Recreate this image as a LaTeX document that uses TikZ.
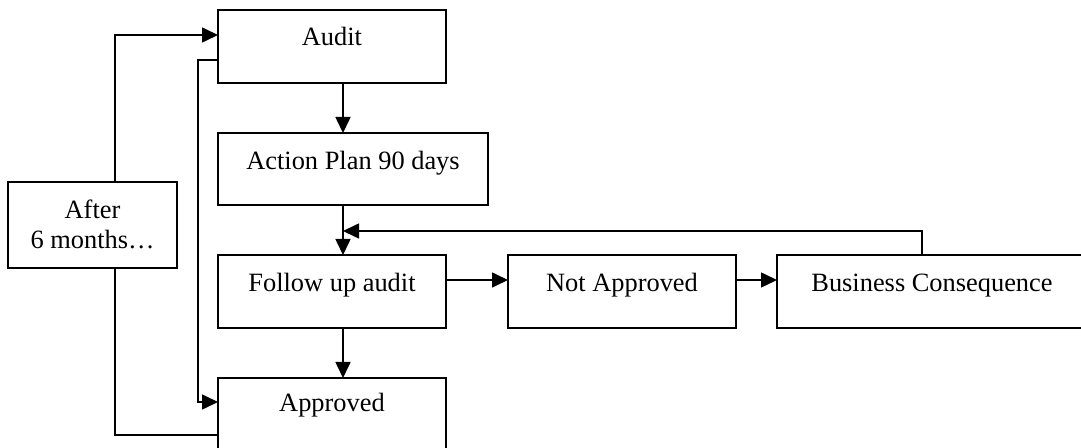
\documentclass[tikz,border=0pt]{standalone}
\usepackage{fontspec}
\setmainfont{Liberation Serif}
\usetikzlibrary{arrows.meta}
\begin{document}
\begin{tikzpicture}[x=0.5pt,y=-0.5pt,
  box/.style={draw, line width=0.8pt, anchor=north west, inner sep=0pt, outer sep=0pt, minimum width=114pt, minimum height=36.5pt},
  lbl/.style={anchor=base, font=\fontsize{13.2}{15}\selectfont, inner sep=0pt},
  conn/.style={line width=0.8pt},
  arr/.style={conn, -{Triangle[length=8pt,width=7.5pt]}}]
\useasboundingbox (0,0) rectangle (1081,448);
\clip (0,0) rectangle (1081,448);
% boxes
\node[box] (audit) at (218,10) {};
\node[box, minimum width=135pt, minimum height=36pt] (plan) at (218,133) {};
\node[box] (follow) at (218,255) {};
\node[box, minimum height=45pt] (approved) at (218,378) {};
\node[box] (notapp) at (508,255) {};
\node[box, minimum width=160pt] (bc) at (777,255) {};
\node[box, minimum width=84.5pt, minimum height=43pt] (after) at (8,182) {};
% texts
\node[lbl] (taudit) at (332,46) {Audit};
\node[lbl] (tplan) at (353,170) {Action Plan 90 days};
\node[lbl] (tfollow) at (332,292) {Follow up audit};
\node[lbl] (tappr) at (332,412) {Approved};
\node[lbl] (tna) at (622,292) {Not Approved};
\node[lbl] (tbc) at (932,292) {Business Consequence};
\node[lbl, anchor=center, align=center] (tafter) at (92.5,224) {After\\6 months…};
% helper coordinates
\coordinate (cx) at (343,0);
\coordinate (mid) at (343,231);
\coordinate (fbx) at (922,0);
\coordinate (ax) at (115,0);
\coordinate (y35) at (0,35);
\coordinate (y435) at (0,435);
\coordinate (lx) at (198,60);
\coordinate (y402) at (0,402);
\coordinate (y280) at (0,280);
% connectors
\draw[arr] (audit.south -| cx) -- (plan.north -| cx);
\draw[arr] (plan.south -| cx) -- (follow.north -| cx);
\draw[arr] (follow.south -| cx) -- (approved.north -| cx);
\draw[arr] (follow.east |- y280) -- (notapp.west |- y280);
\draw[arr] (notapp.east |- y280) -- (bc.west |- y280);
\draw[arr] (bc.north -| fbx) |- (mid);
\draw[arr] (after.north -| ax) |- (audit.west |- y35);
\draw[conn] (after.south -| ax) |- (approved.west |- y435);
\draw[arr] (audit.west |- lx) -- (lx) |- (approved.west |- y402);
\end{tikzpicture}
\end{document}
